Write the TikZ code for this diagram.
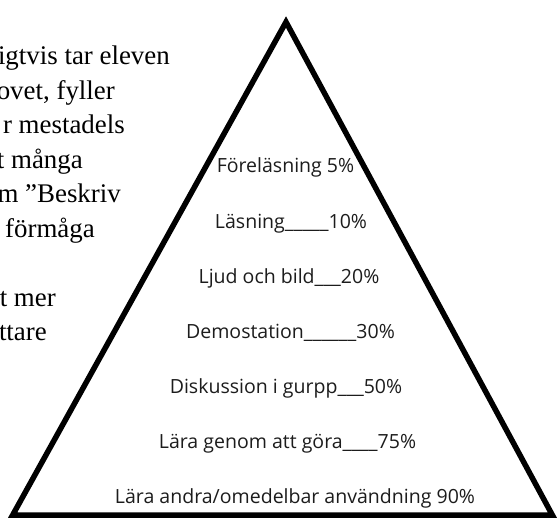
\documentclass[tikz,border=0pt]{standalone}
\usepackage{fontspec}
\setmainfont{Liberation Serif}
\newfontfamily\levelfont{Open Sans}
\usepackage{tikz}
\usetikzlibrary{positioning}
\definecolor{inktext}{HTML}{1C1C1C}
\tikzset{
  bodyline/.style={anchor=base east, inner sep=0pt, text=black, font=\fontsize{27}{32}\selectfont},
  level/.style={anchor=base, inner sep=0pt, text=inktext, font=\levelfont\fontsize{19.6}{24}\selectfont},
  pyramid/.style={draw=black, line width=5.5bp, line join=miter, miter limit=10}
}

\begin{document}
\begin{tikzpicture}[x=1bp, y=-1bp]
  \useasboundingbox (0,0) rectangle (559,518);
  \clip (0,0) rectangle (559,518);

  \node[bodyline] (b1) at (170,65) {igtvis tar eleven};
  \node[bodyline] (b2) at (115,99.5) {ovet, fyller};
  \node[bodyline] (b3) at (125,134) {r mestadels};
  \node[bodyline] (b4) at (83,168.5) {t många};
  \node[bodyline] (b5) at (121,203) {m ”Beskriv};
  \node[bodyline] (b6) at (95,237.5) {förmåga};
  \node[bodyline] (b7) at (56,306) {t mer};
  \node[bodyline] (b8) at (47,340) {ttare};

  \coordinate (top) at (286,22);
  \coordinate (left) at (12.7,515);
  \coordinate (right) at (552.3,515);
  \draw[pyramid] (top) -- (left) -- (right) -- cycle;

  \node[level] (l1) at (285.5,173) {Föreläsning 5\%};
  \node[level] (l2) at (291,228) {Läsning\_\_\_\_\_10\%};
  \node[level] (l3) at (289,283) {Ljud och bild\_\_\_20\%};
  \node[level] (l4) at (290.5,338) {Demostation\_\_\_\_\_\_30\%};
  \node[level] (l5) at (286,393) {Diskussion i gurpp\_\_\_50\%};
  \node[level] (l6) at (287.5,448) {Lära genom att göra\_\_\_\_75\%};
  \node[level] (l7) at (295,503) {Lära andra/omedelbar användning 90\%};
\end{tikzpicture}
\end{document}
